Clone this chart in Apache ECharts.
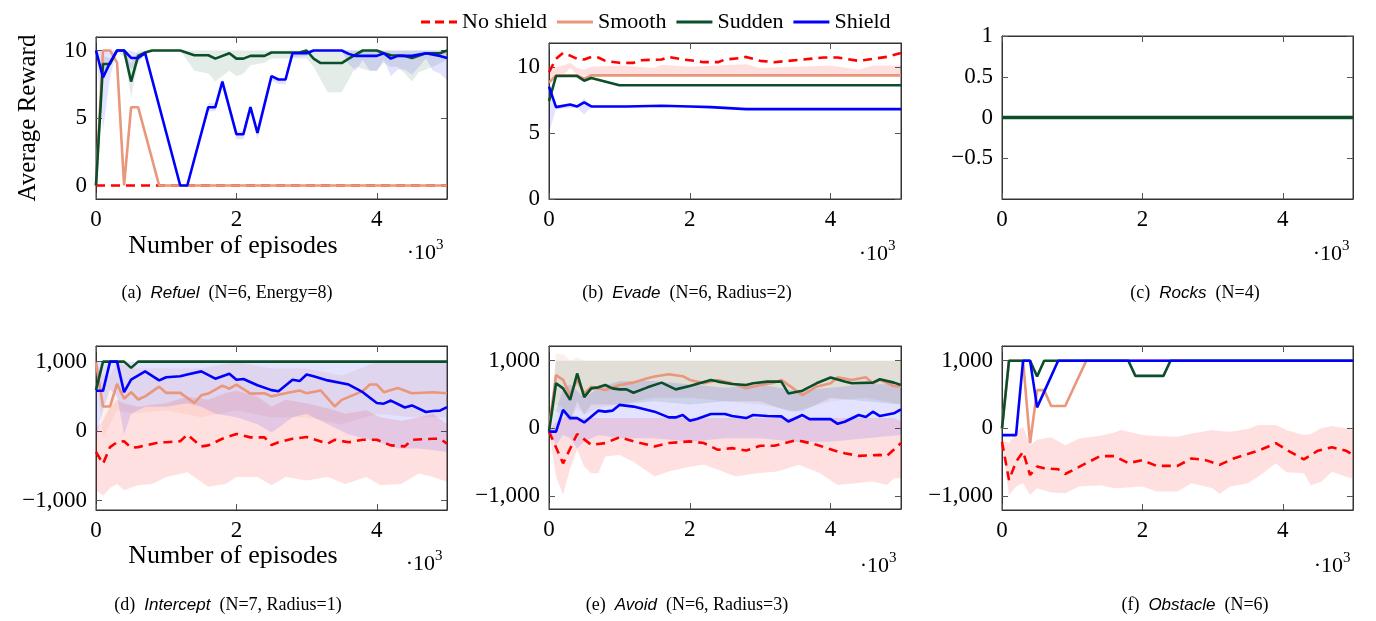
<!DOCTYPE html>
<html>
<head>
<meta charset="utf-8">
<script src="https://cdn.jsdelivr.net/npm/echarts@6.0.0/dist/echarts.min.js"></script>
<style>
  html, body { margin: 0; padding: 0; background: #fff; }
  #chart { width: 1376px; height: 621px; }
</style>
</head>
<body>
<div id="chart"></div>
<script>
// ---- data: [episodes, average reward]; bands are [episodes, low, high] ----
const seriesNames = ["No shield", "Smooth", "Sudden", "Shield"];
const xTicks = [0, 2000, 4000];

// (a) Refuel
const refuelNoShield = [[0, 0], [5000, 0]];
const refuelSmooth = [[0, 0], [100, 10], [200, 10], [300, 9.1], [400, 0], [500, 5.8], [600, 5.8], [900, 0], [5000, 0]];
const refuelSudden = [[0, 0], [100, 9.0], [200, 9.0], [300, 10], [400, 10], [500, 7.7], [600, 9.6], [700, 9.85], [800, 10], [1200, 10],
  [1400, 9.65], [1600, 9.65], [1700, 9.4], [1900, 9.8], [2000, 9.4], [2100, 9.4], [2200, 9.6], [2400, 9.6], [2500, 9.85], [2900, 9.85],
  [3000, 10], [3100, 9.4], [3200, 9.07], [3500, 9.07], [3600, 9.4], [3800, 10], [4000, 10], [4100, 9.8], [4200, 9.65], [4400, 9.6],
  [4500, 9.45], [4700, 9.8], [4900, 9.8], [5000, 10]];
const refuelShield = [[0, 10], [100, 8.0], [200, 9.1], [300, 10], [400, 10], [500, 9.45], [600, 9.45], [700, 9.8], [1200, 0], [1300, 0],
  [1600, 5.8], [1700, 5.8], [1800, 7.7], [2000, 3.8], [2100, 3.8], [2200, 5.8], [2300, 3.9], [2500, 8.1], [2600, 7.85], [2700, 7.85],
  [2800, 9.8], [3000, 9.8], [3100, 10], [3500, 10], [3600, 9.75], [3700, 9.6], [4000, 9.6], [4100, 9.8], [4200, 9.4], [4300, 9.6],
  [4500, 9.6], [4700, 9.8], [4900, 9.6], [5000, 9.45]];
const refuelSuddenBand = [[0, 0, 0], [100, 8.2, 9.6], [200, 8.8, 9.4], [300, 10, 10], [400, 10, 10], [500, 6.5, 9.0], [600, 9.2, 10],
  [700, 9.7, 10], [800, 10, 10], [1200, 10, 10], [1400, 8.5, 10], [1600, 8.3, 10], [1700, 7.7, 10], [1900, 8.5, 10], [2000, 8.1, 10],
  [2100, 8.3, 10], [2200, 8.9, 10], [2400, 9.1, 10], [2500, 9.4, 10], [3000, 9.4, 10], [3100, 8.8, 10], [3300, 6.9, 10], [3500, 6.9, 10],
  [3700, 8.8, 10], [3900, 8.5, 10], [4000, 8.5, 10], [4100, 9.1, 10], [4200, 8.8, 10], [4300, 8.8, 10], [4400, 8.3, 10], [4500, 7.7, 10],
  [4600, 8.4, 10], [4700, 8.6, 10], [4800, 8.8, 10], [5000, 9.3, 10]];
const refuelShieldBand = [[0, 10, 10], [100, 4.1, 10], [200, 8.0, 10], [300, 10, 10], [400, 9.5, 10], [500, 8.6, 10], [600, 9.0, 9.8],
  [700, 9.8, 9.8], [1200, 0, 0], [1300, 0, 0], [1600, 5.5, 6.1], [1700, 5.5, 6.1], [1800, 7.3, 7.9], [2000, 3.4, 4.0], [2100, 3.4, 4.0],
  [2200, 5.5, 5.9], [2300, 3.4, 3.9], [2500, 7.8, 8.2], [2600, 7.5, 7.9], [2700, 7.5, 7.9], [2800, 9.5, 9.9], [3000, 9.6, 10],
  [3100, 10, 10], [3500, 10, 10], [3600, 9.0, 10], [3700, 8.5, 10], [3800, 9.3, 10], [3900, 8.5, 10], [4000, 8.5, 10], [4100, 9.3, 10],
  [4200, 8.1, 10], [4300, 8.6, 10], [4400, 8.6, 10], [4500, 8.2, 10], [4600, 8.8, 10], [4700, 9.4, 10], [4800, 8.5, 10], [4900, 8.3, 10],
  [5000, 7.8, 10]];

// (b) Evade
const evadeNoShield = [[0, 9.6], [100, 10.6], [200, 11.05], [300, 10.85], [400, 10.6], [500, 10.55], [600, 10.75], [700, 10.7],
  [800, 10.45], [1000, 10.3], [1200, 10.3], [1300, 10.5], [1600, 10.55], [1700, 10.75], [1900, 10.55], [2000, 10.5], [2200, 10.35],
  [2400, 10.35], [2500, 10.55], [2700, 10.65], [2800, 10.75], [3000, 10.45], [3200, 10.35], [3400, 10.45], [3700, 10.6], [3900, 10.7],
  [4100, 10.7], [4400, 10.45], [4600, 10.6], [4800, 10.75], [5000, 11.05]];
const evadeSmooth = [[0, 8.8], [100, 9.35], [400, 9.35], [500, 9.1], [600, 9.35], [5000, 9.35]];
const evadeSudden = [[0, 7.4], [100, 9.3], [400, 9.3], [500, 8.95], [600, 9.15], [1000, 8.6], [5000, 8.6]];
const evadeShield = [[0, 8.5], [100, 6.95], [300, 7.15], [400, 7.0], [500, 7.3], [600, 7.0], [1100, 7.0], [1600, 7.05], [2000, 7.0],
  [2300, 6.95], [2800, 6.8], [5000, 6.8]];
const evadeNoShieldBand = [[0, 9.0, 9.6], [100, 9.35, 10.0], [200, 9.35, 10.1], [300, 9.9, 10.3], [400, 9.4, 9.9], [500, 9.35, 9.8],
  [600, 9.35, 10.0], [1000, 9.35, 10.1], [1500, 9.35, 9.9], [1600, 9.35, 10.15], [2000, 9.35, 10.0], [2600, 9.35, 10.15],
  [2800, 9.35, 10.2], [3000, 9.35, 9.9], [3500, 9.35, 10.0], [4000, 9.35, 10.1], [4400, 9.35, 9.8], [4600, 9.35, 10.1], [5000, 9.35, 10.1]];
const evadeShieldBand = [[0, 5.0, 8.5], [100, 6.8, 7.1], [400, 6.9, 7.1], [500, 6.4, 7.6], [600, 6.95, 7.05]];

// (c) Rocks
const rocksNoShield = [[0, 0], [5000, 0]];
const rocksSmooth = [[0, 0], [5000, 0]];
const rocksSudden = [[0, 0], [5000, 0]];
const rocksShield = [[0, 0], [5000, 0]];

// (d) Intercept
const interceptNoShield = [[0, -300], [100, -470], [200, -230], [300, -160], [400, -145], [500, -240], [600, -230], [900, -160],
  [1000, -160], [1200, -145], [1300, -50], [1500, -220], [1600, -205], [1800, -110], [2000, -40], [2200, -90], [2400, -90],
  [2500, -200], [2600, -160], [2800, -110], [3000, -85], [3300, -180], [3400, -125], [3600, -160], [3800, -125], [4000, -125],
  [4200, -205], [4400, -220], [4500, -125], [4800, -110], [4900, -110], [5000, -180]];
const interceptSmooth = [[0, 990], [100, 355], [200, 355], [300, 680], [400, 465], [500, 560], [600, 455], [700, 500], [900, 640],
  [1000, 550], [1200, 550], [1400, 405], [1500, 515], [1600, 540], [1800, 655], [1900, 610], [2000, 670], [2200, 540], [2400, 545],
  [2500, 500], [2700, 545], [2900, 585], [3000, 545], [3200, 585], [3400, 355], [3500, 450], [3800, 575], [3900, 670], [4000, 670],
  [4100, 560], [4300, 620], [4500, 545], [4800, 560], [5000, 545]];
const interceptSudden = [[0, 590], [100, 1000], [400, 1000], [500, 910], [600, 1000], [5000, 1000]];
const interceptShield = [[0, 580], [100, 580], [200, 1000], [300, 1000], [400, 560], [500, 740], [700, 860], [900, 730], [1000, 775],
  [1200, 790], [1300, 815], [1500, 860], [1700, 755], [1900, 825], [2000, 740], [2100, 750], [2300, 660], [2500, 590], [2600, 575],
  [2800, 740], [2900, 720], [3000, 815], [3100, 790], [3300, 730], [3600, 670], [3800, 560], [4000, 405], [4100, 395], [4200, 440],
  [4400, 340], [4500, 370], [4700, 275], [4800, 290], [4900, 295], [5000, 345]];
const interceptNoShieldBand = [[0, -850, 50], [100, -925, 150], [200, -820, 350], [300, -760, 450], [400, -850, 400], [600, -780, 350],
  [800, -760, 380], [1000, -660, 400], [1300, -590, 500], [1600, -800, 450], [1850, -760, 550], [2000, -660, 580], [2300, -660, 500],
  [2500, -780, 350], [2700, -660, 450], [3000, -710, 400], [3300, -660, 330], [3550, -760, 250], [3850, -660, 300], [4050, -780, 200],
  [4350, -760, 150], [4600, -610, 200], [4800, -660, 250], [5000, -730, 100]];
const interceptSmoothBand = [[0, 900, 1000], [100, -100, 800], [200, 100, 800], [300, 300, 1000], [500, 250, 900], [1000, 300, 900],
  [1500, 200, 900], [2000, 300, 1000], [2500, 200, 900], [3000, 200, 900], [3500, 100, 800], [4000, 250, 1000], [4500, 200, 1000],
  [5000, 200, 1000]];
const interceptShieldBand = [[0, -100, 1000], [100, 300, 1000], [200, 600, 1000], [300, 500, 1000], [400, -50, 1000], [500, 250, 1000],
  [700, 350, 1000], [1000, 350, 1000], [1300, 400, 1000], [1500, 350, 1000], [1700, 250, 1000], [2000, 200, 1000], [2300, 100, 1000],
  [2500, -20, 1000], [2600, 50, 1000], [2800, 200, 1000], [3000, 250, 1000], [3300, 100, 1000], [3600, -50, 1000], [3800, -100, 1000],
  [4000, -150, 1000], [4300, -250, 1000], [4600, -250, 1000], [5000, -300, 1000]];

// (e) Avoid
const avoidNoShield = [[0, -50], [200, -520], [400, -85], [600, -245], [800, -220], [1000, -135], [1200, -195], [1500, -270],
  [1700, -220], [2000, -195], [2200, -220], [2400, -320], [2600, -295], [2800, -330], [3000, -260], [3200, -260], [3500, -180],
  [3600, -195], [3800, -245], [4100, -345], [4200, -370], [4400, -410], [4700, -395], [4800, -410], [5000, -220]];
const avoidSmooth = [[0, 0], [100, 785], [200, 715], [300, 490], [400, 715], [500, 515], [600, 615], [800, 565], [1000, 640],
  [1200, 675], [1400, 740], [1500, 765], [1700, 800], [1900, 770], [2000, 715], [2200, 665], [2400, 715], [2600, 665], [2800, 590],
  [3000, 640], [3200, 675], [3300, 715], [3600, 490], [3800, 615], [4000, 665], [4100, 755], [4300, 715], [4500, 755], [4600, 665],
  [4700, 715], [4900, 625], [5000, 615]];
const avoidSudden = [[0, -50], [100, 665], [200, 590], [300, 420], [400, 810], [500, 460], [600, 590], [700, 605], [800, 640],
  [900, 590], [1000, 575], [1100, 575], [1200, 525], [1400, 605], [1600, 675], [1800, 575], [2000, 625], [2300, 715], [2400, 690],
  [2600, 655], [2800, 640], [2900, 665], [3100, 690], [3300, 690], [3400, 515], [3600, 555], [3800, 665], [4000, 750], [4200, 690],
  [4300, 665], [4600, 675], [4700, 725], [4900, 675], [5000, 640]];
const avoidShield = [[0, -50], [100, -50], [200, 270], [300, 150], [400, 150], [500, 85], [700, 260], [800, 245], [900, 260],
  [1000, 345], [1200, 320], [1400, 270], [1500, 245], [1700, 160], [1800, 160], [1900, 195], [2000, 110], [2100, 135], [2300, 210],
  [2500, 210], [2600, 180], [2800, 150], [2900, 195], [3100, 180], [3300, 175], [3400, 100], [3600, 195], [3700, 135], [4000, 135],
  [4100, 65], [4200, 95], [4400, 195], [4500, 165], [4600, 245], [4700, 180], [4900, 220], [5000, 280]];
const avoidNoShieldBand = [[0, -50, -50], [100, -715, 100], [200, -985, 150], [300, -600, 200], [400, -320, 150], [500, -570, 150],
  [600, -665, 150], [700, -665, 150], [800, -420, 150], [1000, -395, 150], [1200, -495, 150], [1500, -715, 150], [1700, -640, 150],
  [2000, -570, 150], [2200, -540, 150], [2400, -615, 150], [2650, -715, 150], [2950, -665, 150], [3250, -640, 150], [3550, -540, 150],
  [3850, -665, 150], [4100, -840, 150], [4350, -815, 150], [4600, -790, 150], [4800, -840, 150], [4900, -740, 150], [5000, -740, 100]];
const avoidSmoothBand = [[0, -50, -50], [100, 350, 1100], [200, 300, 1100], [300, 150, 1000], [400, 300, 1050], [500, 200, 1000],
  [700, 300, 1000], [1000, 350, 1000], [1500, 450, 1000], [2000, 450, 1000], [2500, 400, 1000], [3000, 350, 1000], [3500, 250, 1000],
  [4000, 400, 1000], [4500, 450, 1000], [5000, 350, 1000]];
const avoidSuddenBand = [[0, -50, -50], [100, 250, 1000], [200, 200, 1000], [300, 100, 1000], [400, 400, 1000], [500, 200, 1000],
  [600, 350, 1000], [1000, 350, 1000], [1500, 400, 1000], [2000, 350, 1000], [2500, 400, 1000], [3000, 400, 1000], [3400, 250, 1000],
  [3600, 250, 1000], [4000, 450, 1000], [4500, 400, 1000], [5000, 350, 1000]];
const avoidShieldBand = [[0, -50, -50], [100, -250, 250], [200, -100, 600], [300, -150, 650], [400, -300, 550], [500, -200, 450],
  [700, -100, 600], [1000, -150, 700], [1500, -150, 700], [2000, -200, 650], [2500, -150, 600], [3000, -150, 650], [3500, -200, 550],
  [4000, -200, 600], [4500, -150, 650], [5000, -100, 650]];

// (f) Obstacle
const obstacleNoShield = [[0, -200], [100, -765], [200, -495], [300, -345], [400, -690], [500, -565], [600, -590], [800, -605],
  [900, -675], [1200, -515], [1400, -410], [1600, -410], [1800, -515], [2000, -470], [2200, -555], [2500, -555], [2700, -445],
  [2900, -470], [3100, -540], [3300, -445], [3500, -380], [3700, -310], [3900, -220], [4100, -345], [4300, -460], [4500, -330],
  [4700, -280], [4900, -330], [5000, -395]];
const obstacleSmooth = [[0, 0], [100, 1000], [300, 1000], [400, -220], [500, 565], [600, 565], [700, 330], [900, 330], [1200, 1000], [5000, 1000]];
const obstacleSudden = [[0, 0], [100, 1000], [400, 1000], [500, 765], [600, 1000], [1800, 1000], [1900, 775], [2300, 775], [2400, 1000], [5000, 1000]];
const obstacleShield = [[0, -100], [200, -100], [300, 1000], [400, 1000], [500, 310], [800, 1000], [5000, 1000]];
const obstacleNoShieldBand = [[0, -250, -170], [100, -985, -220], [200, -860, -50], [300, -810, 25], [400, -985, -250], [500, -885, -170],
  [700, -950, -130], [900, -960, -250], [1100, -860, -150], [1400, -840, -110], [1600, -885, -60], [1700, -880, -25], [2000, -860, -100],
  [2200, -935, -115], [2500, -935, -125], [2700, -810, -75], [3000, -885, -25], [3100, -970, -40], [3250, -860, -50], [3500, -810, -10],
  [3650, -715, 50], [3900, -515, 50], [4050, -650, -25], [4300, -665, -100], [4400, -840, -85], [4550, -790, 0], [4700, -640, 35],
  [4900, -715, 0], [5000, -740, -25]];

// ---- styling ----
const FONT = "Liberation Serif";
const colors = { "No shield": "#ff0000", "Smooth": "#e9967a", "Sudden": "#0b4f2a", "Shield": "#0000ff" };
const bandColors = {
  "No shield": "rgba(255,0,0,0.12)",
  "Smooth": "rgba(233,150,122,0.14)",
  "Sudden": "rgba(11,79,42,0.11)",
  "Shield": "rgba(0,0,255,0.11)"
};
// legend icons drawn as short strokes (dashed for "No shield")
const dashIcon = "path://M0,0h9v3h-9zM14,0h9v3h-9zM28,0h8v3h-8z";
const solidIcon = "path://M0,0h36v3h-36z";

const panels = [
  { grid: { left: 96, top: 37, width: 351, height: 162 }, y: [-1, 11], yTicks: [0, 5, 10],
    lines: [["No shield", refuelNoShield], ["Smooth", refuelSmooth], ["Sudden", refuelSudden], ["Shield", refuelShield]],
    bands: [["Sudden", refuelSuddenBand], ["Shield", refuelShieldBand]] },
  { grid: { left: 549, top: 43, width: 352, height: 156 }, y: [0, 11.8], yTicks: [0, 5, 10],
    lines: [["No shield", evadeNoShield], ["Smooth", evadeSmooth], ["Sudden", evadeSudden], ["Shield", evadeShield]],
    bands: [["No shield", evadeNoShieldBand], ["Shield", evadeShieldBand]] },
  { grid: { left: 1002, top: 36, width: 351, height: 163 }, y: [-1, 1], yTicks: [-0.5, 0, 0.5, 1],
    lines: [["Shield", rocksShield], ["No shield", rocksNoShield], ["Smooth", rocksSmooth], ["Sudden", rocksSudden]],
    bands: [], topWidth: 3.4 },
  { grid: { left: 96, top: 346, width: 351, height: 164 }, y: [-1135, 1225], yTicks: [-1000, 0, 1000],
    lines: [["No shield", interceptNoShield], ["Smooth", interceptSmooth], ["Sudden", interceptSudden], ["Shield", interceptShield]],
    bands: [["No shield", interceptNoShieldBand], ["Smooth", interceptSmoothBand], ["Shield", interceptShieldBand]] },
  { grid: { left: 549, top: 346, width: 352, height: 163 }, y: [-1196, 1217], yTicks: [-1000, 0, 1000],
    lines: [["No shield", avoidNoShield], ["Smooth", avoidSmooth], ["Sudden", avoidSudden], ["Shield", avoidShield]],
    bands: [["No shield", avoidNoShieldBand], ["Smooth", avoidSmoothBand], ["Sudden", avoidSuddenBand], ["Shield", avoidShieldBand]] },
  { grid: { left: 1002, top: 346, width: 351, height: 164 }, y: [-1207, 1217], yTicks: [-1000, 0, 1000],
    lines: [["No shield", obstacleNoShield], ["Smooth", obstacleSmooth], ["Sudden", obstacleSudden], ["Shield", obstacleShield]],
    bands: [["No shield", obstacleNoShieldBand]] }
];

function fmtNum(v) {
  let a = Math.abs(v);
  let s = a >= 1000 ? a.toLocaleString("en-US") : String(a);
  return (v < 0 ? "\u2212" : "") + s;
}

const grids = [], xAxes = [], yAxes = [], series = [];
const tickStyle = { show: true, inside: true, length: 6, lineStyle: { color: "#555", width: 1 } };
const labelStyle = { fontFamily: FONT, fontSize: 23, color: "#000" };
const frameLine = { show: true, onZero: false, lineStyle: { color: "#333", width: 1 } };

panels.forEach((p, i) => {
  grids.push(Object.assign({ show: true, borderColor: "#333", borderWidth: 1, backgroundColor: "transparent" }, p.grid));
});
// primary axes first so index i belongs to panel i
panels.forEach((p, i) => {
  xAxes.push({ gridIndex: i, type: "value", position: "bottom", min: 0, max: 5000, axisLine: frameLine, splitLine: { show: false },
    axisTick: Object.assign({ customValues: xTicks }, tickStyle),
    axisLabel: Object.assign({ customValues: xTicks, margin: 9, formatter: v => String(v / 1000) }, labelStyle) });
  yAxes.push({ gridIndex: i, type: "value", position: "left", min: p.y[0], max: p.y[1], axisLine: frameLine, splitLine: { show: false },
    axisTick: Object.assign({ customValues: p.yTicks }, tickStyle),
    axisLabel: Object.assign({ customValues: p.yTicks, margin: 9, formatter: fmtNum }, labelStyle) });
});
// mirrored ticks on top and right
panels.forEach((p, i) => {
  xAxes.push({ gridIndex: i, type: "value", position: "top", min: 0, max: 5000, axisLine: frameLine, splitLine: { show: false },
    axisTick: Object.assign({ customValues: xTicks }, tickStyle), axisLabel: { show: false } });
  yAxes.push({ gridIndex: i, type: "value", position: "right", min: p.y[0], max: p.y[1], axisLine: frameLine, splitLine: { show: false },
    axisTick: Object.assign({ customValues: p.yTicks }, tickStyle), axisLabel: { show: false } });
});

panels.forEach((p, i) => {
  p.bands.forEach(([name, band]) => {
    series.push({
      type: "custom", xAxisIndex: i, yAxisIndex: i, silent: true, clip: true, z: 1,
      data: [[band[0][0], band[0][1]]],
      renderItem: (params, api) => {
        const upper = band.map(b => api.coord([b[0], b[2]]));
        const lower = band.slice().reverse().map(b => api.coord([b[0], b[1]]));
        return { type: "polygon", shape: { points: upper.concat(lower) }, style: { fill: bandColors[name] } };
      }
    });
  });
  p.lines.forEach(([name, data], k) => {
    const last = k === p.lines.length - 1;
    series.push({
      type: "line", name: name, xAxisIndex: i, yAxisIndex: i, data: data,
      symbol: "none", showSymbol: false, clip: true, z: 2 + k,
      color: colors[name],
      lineStyle: { color: colors[name], width: (last && p.topWidth) ? p.topWidth : 2.6,
        type: name === "No shield" ? [9, 6] : "solid" }
    });
  });
});

// texts outside the plots
const graphics = [];
function txt(x, y, text, size, extra) {
  graphics.push(Object.assign({ type: "text", x: x, y: y,
    style: Object.assign({ text: text, fontFamily: FONT, fontSize: size, fill: "#000",
      textAlign: "center", textVerticalAlign: "middle", align: "center", verticalAlign: "middle" }, extra || {}) }));
}
graphics.push({ type: "text", x: 28, y: 118, rotation: Math.PI / 2,
  style: { text: "Average Reward", fontFamily: FONT, fontSize: 25, fill: "#000",
    textAlign: "center", textVerticalAlign: "middle", align: "center", verticalAlign: "middle" } });
txt(233, 246, "Number of episodes", 26);
txt(233, 556, "Number of episodes", 26);

const powerPos = [[445, 253], [897, 254], [1351, 254], [444, 564], [898, 566], [1352, 566]];
powerPos.forEach(([x, y]) => {
  txt(x - 9, y, "\u00b710", 22, { textAlign: "right", align: "right" });
  txt(x - 9, y - 8, "3", 15, { textAlign: "left", align: "left" });
});

const captions = [
  [227, 293, "(a)", "Refuel", "(N=6, Energy=8)"],
  [687, 293, "(b)", "Evade", "(N=6, Radius=2)"],
  [1195, 293, "(c)", "Rocks", "(N=4)"],
  [228, 605, "(d)", "Intercept", "(N=7, Radius=1)"],
  [687, 605, "(e)", "Avoid", "(N=6, Radius=3)"],
  [1195, 605, "(f)", "Obstacle", "(N=6)"]
];
captions.forEach(([x, y, tag, name, rest]) => {
  txt(x, y, "{n|" + tag + "}  {i|" + name + "}  {n|" + rest + "}", 18, {
    rich: {
      n: { fontFamily: FONT, fontSize: 18, fill: "#000" },
      i: { fontFamily: "Liberation Sans", fontStyle: "italic", fontSize: 17, fill: "#000" }
    }
  });
});

const chart = echarts.init(document.getElementById("chart"), null, { renderer: "canvas" });
chart.setOption({
  animation: false,
  backgroundColor: "#fff",
  legend: {
    data: seriesNames.map(n => ({ name: n, icon: n === "No shield" ? dashIcon : solidIcon })),
    left: 416, top: 6, itemWidth: 36, itemHeight: 3, itemGap: 10,
    textStyle: { fontFamily: FONT, fontSize: 22, color: "#000" }
  },
  grid: grids,
  xAxis: xAxes,
  yAxis: yAxes,
  series: series,
  graphic: graphics
});
</script>
</body>
</html>
